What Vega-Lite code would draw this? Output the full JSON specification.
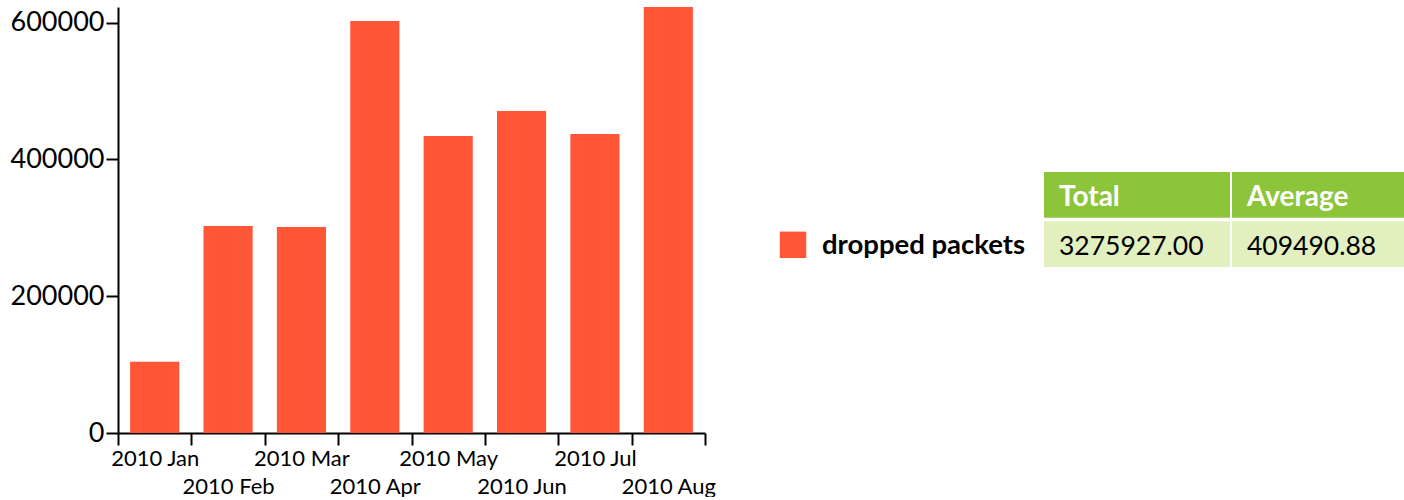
{
  "$schema": "https://vega.github.io/schema/vega-lite/v6.json",
  "padding": {"left": 10, "top": 7, "right": 0, "bottom": 0},
  "background": "white",
  "config": {
    "view": {"stroke": null},
    "font": "Lato",
    "axis": {"domainColor": "black", "tickColor": "black", "labelColor": "black", "domainWidth": 2, "tickWidth": 2, "grid": false}
  },
  "bounds": "flush",
  "spacing": 75,
  "hconcat": [
    {
      "width": 587,
      "height": 426,
      "data": {
        "values": [
          {"month": "2010 Jan", "series": "dropped packets", "packets": 104300},
          {"month": "2010 Feb", "series": "dropped packets", "packets": 302700},
          {"month": "2010 Mar", "series": "dropped packets", "packets": 301200},
          {"month": "2010 Apr", "series": "dropped packets", "packets": 602400},
          {"month": "2010 May", "series": "dropped packets", "packets": 434300},
          {"month": "2010 Jun", "series": "dropped packets", "packets": 470800},
          {"month": "2010 Jul", "series": "dropped packets", "packets": 437200},
          {"month": "2010 Aug", "series": "dropped packets", "packets": 623027}
        ]
      },
      "mark": {"type": "bar", "width": {"band": 0.67}},
      "encoding": {
        "x": {
          "field": "month",
          "type": "ordinal",
          "sort": null,
          "scale": {"paddingInner": 0, "paddingOuter": 0},
          "axis": {
            "title": null,
            "tickBand": "extent",
            "tickSize": 12,
            "labelAngle": 0,
            "labelFontSize": 22,
            "labelOverlap": false,
            "labelPadding": {"expr": "indexof(['2010 Feb','2010 Apr','2010 Jun','2010 Aug'], datum.value) >= 0 ? 31 : 3"}
          }
        },
        "y": {
          "field": "packets",
          "type": "quantitative",
          "scale": {"domain": [0, 623027], "nice": false},
          "axis": {
            "title": null,
            "values": [0, 200000, 400000, 600000],
            "tickSize": 12,
            "labelPadding": 2,
            "labelFontSize": 27,
            "format": "d"
          }
        },
        "color": {
          "field": "series",
          "type": "nominal",
          "scale": {"domain": ["dropped packets"], "range": ["#ff5638"]},
          "legend": null
        }
      }
    },
    {
      "bounds": "flush",
      "spacing": 238,
      "hconcat": [
        {
          "width": 26,
          "height": 426,
          "data": {"values": [{"series": "dropped packets"}]},
          "encoding": {
            "x": {"field": "series", "type": "nominal", "axis": null},
            "y": {
              "datum": "value",
              "type": "nominal",
              "scale": {"type": "band", "domain": ["header", "value"], "range": [165, 261], "paddingInner": 0.067, "paddingOuter": 0},
              "axis": null
            }
          },
          "layer": [
            {
              "mark": {"type": "square", "size": 700, "opacity": 1},
              "encoding": {
                "color": {"field": "series", "type": "nominal", "legend": null}
              }
            },
            {
              "mark": {"type": "text", "align": "left", "baseline": "middle", "dx": 29, "dy": 1, "fontSize": 27.5, "fontWeight": "bold", "color": "black"},
              "encoding": {"text": {"field": "series"}}
            }
          ]
        },
        {
          "width": 374,
          "height": 426,
          "data": {
            "values": [
              {"stat": "Total", "value": 3275927},
              {"stat": "Average", "value": 409490.875}
            ]
          },
          "encoding": {
            "x": {
              "field": "stat",
              "type": "nominal",
              "sort": null,
              "scale": {"paddingInner": 0.0106, "paddingOuter": 0},
              "axis": null
            }
          },
          "layer": [
            {
              "mark": {"type": "rect", "color": "#8cc43a"},
              "encoding": {
                "y": {
                  "datum": "header",
                  "type": "nominal",
                  "scale": {"type": "band", "domain": ["header", "value"], "range": [165, 260], "paddingInner": 0.067, "paddingOuter": 0},
                  "axis": null
                }
              }
            },
            {
              "mark": {"type": "rect", "color": "#e2f0c0"},
              "encoding": {"y": {"datum": "value", "type": "nominal"}}
            },
            {
              "mark": {"type": "text", "align": "left", "baseline": "middle", "dx": 15, "dy": 3, "fontSize": 28, "fontWeight": "bold", "color": "white"},
              "encoding": {
                "x": {"field": "stat", "type": "nominal", "sort": null, "bandPosition": 0},
                "y": {"datum": "header", "type": "nominal"},
                "text": {"field": "stat"}
              }
            },
            {
              "mark": {"type": "text", "align": "left", "baseline": "middle", "dx": 15, "dy": 3, "fontSize": 26.5, "color": "black"},
              "encoding": {
                "x": {"field": "stat", "type": "nominal", "sort": null, "bandPosition": 0},
                "y": {"datum": "value", "type": "nominal"},
                "text": {"field": "value", "type": "quantitative", "format": ".2f"}
              }
            }
          ]
        }
      ]
    }
  ]
}
